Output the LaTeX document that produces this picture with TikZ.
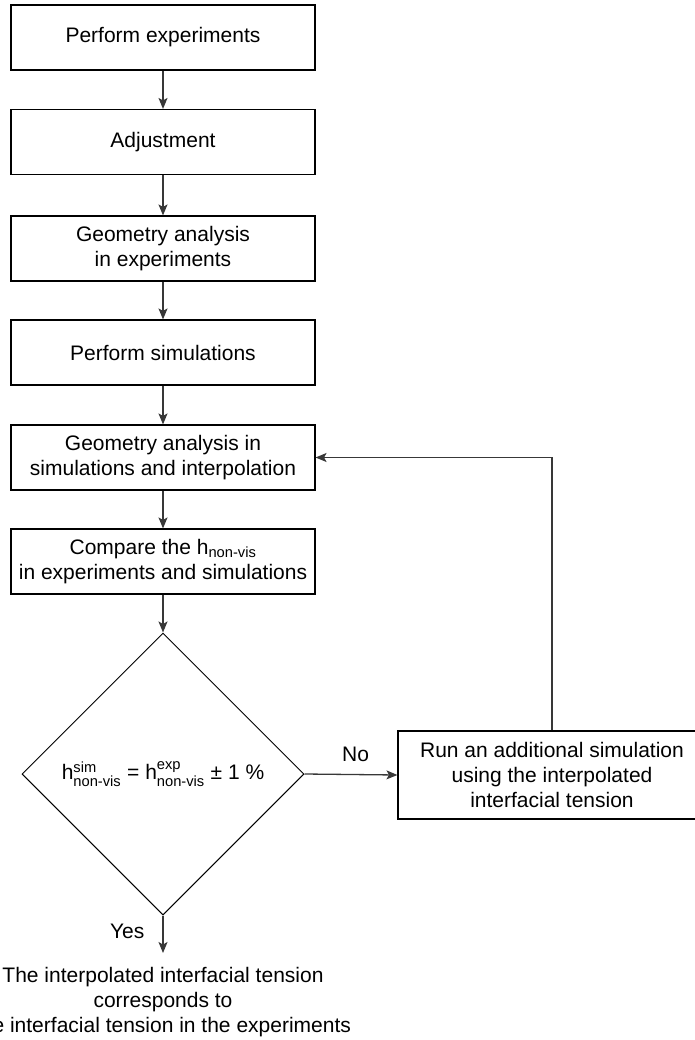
\documentclass[tikz,border=0pt]{standalone}
\usepackage{fontspec}
\setmainfont{Liberation Sans}
\usepackage{amsmath}
\usetikzlibrary{arrows.meta,shapes.geometric}
\begin{document}
\begin{tikzpicture}[x=1pt,y=-1pt,
  txt/.style={font=\fontsize{21}{25}\selectfont},
  box/.style={txt,draw=black,line width=1.1pt,minimum width=304pt,minimum height=65pt,align=center,inner sep=0pt},
  arr/.style={draw=black!78,line width=1.3pt,-{Stealth[length=11pt,width=9pt,inset=2.5pt]}},
  lbl/.style={txt,inner sep=0pt}]
\useasboundingbox (0,0) rectangle (694,1040);
\node[box] (b1) at (163,37.5) {Perform experiments};
\node[box] (b2) at (163,142) {Adjustment};
\node[box] (b3) at (163,248.5) {Geometry analysis\\ in experiments};
\node[box] (b4) at (163,352.5) {Perform simulations};
\node[box] (b5) at (163,457.5) {Geometry analysis in\\simulations and interpolation};
\node[box] (b6) at (163,561.5) {Compare the h$_{\text{non-vis}}$\\in experiments and simulations};
\node[txt,draw=black,line width=1pt,diamond,minimum width=282pt,minimum height=282pt,inner sep=0pt] (d) at (163,774)
  {h$^{\text{sim}}_{\text{non-vis}}$ = h$^{\text{exp}}_{\text{non-vis}}$ ± 1 \%};
\node[box,minimum width=308pt,minimum height=88pt] (r) at (552,775)
  {Run an additional simulation\\using the interpolated\\interfacial tension};
\node[txt,align=center,anchor=north,inner xsep=0pt,inner ysep=14pt] (res) at (163,953)
  {The interpolated interfacial tension\\corresponds to\\the interfacial tension in the experiments};
\draw[arr] (b1) -- (b2);
\draw[arr] (b2) -- (b3);
\draw[arr] (b3) -- (b4);
\draw[arr] (b4) -- (b5);
\draw[arr] (b5) -- (b6);
\draw[arr] (b6) -- (d);
\draw[arr] (d.east) -- node[lbl,pos=0.55,above=12pt] {No} (r.west);
\draw[arr] (r.north) |- (b5.east);
\draw[arr] (d.south) -- node[lbl,pos=0.42,left=18pt] {Yes} (res.north);
\end{tikzpicture}
\end{document}
